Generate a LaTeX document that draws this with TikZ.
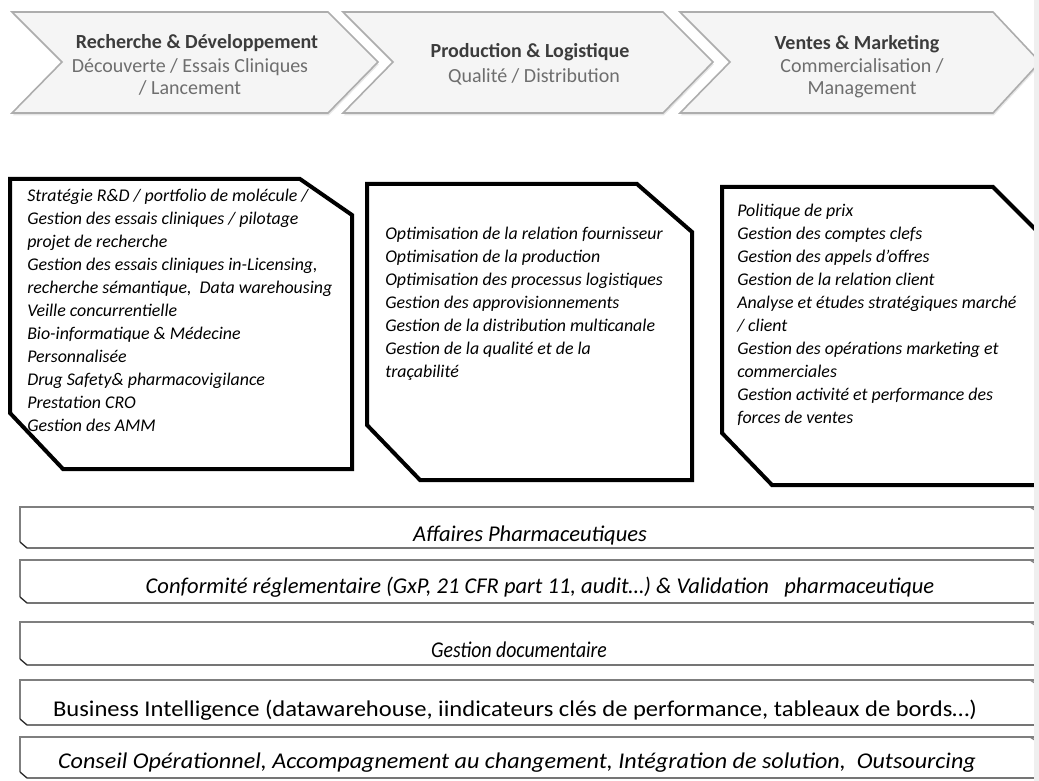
\documentclass[tikz,border=0pt]{standalone}
\usepackage{fontspec}
\setmainfont{Carlito}
\usetikzlibrary{shadows}
\definecolor{chevfill}{HTML}{F5F5F5}
\definecolor{chevline}{HTML}{ADADAD}
\definecolor{titlegray}{HTML}{3C3C3C}
\definecolor{subgray}{HTML}{6E6E6E}
\definecolor{bandtop}{HTML}{7F7F7F}
\definecolor{bandbot}{HTML}{2B2B2B}
\definecolor{edgestrip}{HTML}{EFEFEF}
\tikzstyle{chevron}=[fill=chevfill, draw=chevline, line width=1.2pt, line join=miter,
    drop shadow={opacity=0.2, shadow xshift=0.6pt, shadow yshift=-1.8pt}]
\tikzstyle{steptitle}=[inner sep=0pt, text=titlegray, font=\fontsize{15}{17}\selectfont\bfseries]
\tikzstyle{stepsub}=[inner sep=0pt, align=center, text=subgray, font=\fontsize{15}{16.5}\selectfont]
\tikzstyle{offer}=[draw=black, line width=3pt, line join=miter]
\tikzstyle{offertext}=[inner sep=0pt, anchor=north west, align=left, font=\fontsize{13.4}{17.25}\selectfont\itshape]
\tikzstyle{band}=[draw=bandtop, line width=1pt]
\tikzstyle{bandbase}=[draw=bandbot, line width=1pt]
\tikzstyle{bandtext}=[inner sep=0pt, font=\fontsize{16.9}{20}\selectfont\itshape]
% left, top right, tip, notch
\newcommand{\stepchevron}[4]{\draw[chevron] (#1,12) -- (#2,12) -- (#3,62) -- (#2,113) -- (#1,113) -- (#4,62) -- cycle;}
% top, bottom
\newcommand{\bandrow}[2]{
    \draw[band] (1045,#1) -- (20,#1) -- (20,#2-6);
    \draw[bandbase] (20,#2-6) -- (27,#2) -- (1045,#2);
    \draw[band] (1030,#1) -- (1038,#1+5);
}

\begin{document}
\begin{tikzpicture}[x=0.75pt, y=-0.75pt]
\useasboundingbox (0,0) rectangle (1039,781);
\clip (0,0) rectangle (1039,781);

% value chain
\stepchevron{12}{328}{378}{62}
\stepchevron{343}{663}{713}{393}
\stepchevron{680}{993}{1040}{730}
\node[steptitle] (rd) at (197,43) {Recherche \& Développement};
\node[stepsub] (rdsub) at (190,77) {Découverte / Essais Cliniques\\/ Lancement};
\node[steptitle] (pl) at (530,52) {Production \& Logistique};
\node[stepsub] (plsub) at (534,77) {Qualité / Distribution};
\node[steptitle] (vm) at (857,44) {Ventes \& Marketing};
\node[stepsub] (vmsub) at (862,78) {Commercialisation /\\Management};

% offers
\draw[offer] (10,179) -- (300,179) -- (352,215) -- (352,469) -- (63,469) -- (10,413) -- cycle;
\draw[offer] (367,184) -- (637,184) -- (692,232) -- (692,480) -- (420,480) -- (367,425) -- cycle;
\draw[offer] (722,187) -- (993,187) -- (1045,239) -- (1045,485) -- (772,485) -- (722,433) -- cycle;

\node[offertext] (rdlist) at (27,189) {Stratégie R\&D / portfolio de molécule /\\
Gestion des essais cliniques / pilotage\\
projet de recherche\\
Gestion des essais cliniques in-Licensing,\\
recherche sémantique,\ \ Data warehousing\\
Veille concurrentielle\\
Bio-informatique \& Médecine\\
Personnalisée\\
Drug Safety\& pharmacovigilance\\
Prestation CRO\\
Gestion des AMM};
\node[offertext] (pllist) at (385,227) {Optimisation de la relation fournisseur\\
Optimisation de la production\\
Optimisation des processus logistiques\\
Gestion des approvisionnements\\
Gestion de la distribution multicanale\\
Gestion de la qualité et de la\\
traçabilité};
\node[offertext] (vmlist) at (737,204) {Politique de prix\\
Gestion des comptes clefs\\
Gestion des appels d’offres\\
Gestion de la relation client\\
Analyse et études stratégiques marché\\
/ client\\
Gestion des opérations marketing et\\
commerciales\\
Gestion activité et performance des\\
forces de ventes};

% transverse
\bandrow{507}{548}
\bandrow{560}{603}
\bandrow{622}{665}
\bandrow{680}{725}
\bandrow{737}{778}
\node[bandtext] (aff) at (530,535) {Affaires Pharmaceutiques};
\node[bandtext] (conf) at (540,587) {Conformité réglementaire (GxP, 21 CFR part 11, audit…) \& Validation\ \ \ pharmaceutique};
\node[bandtext] (ged) at (519,650) {\scalebox{0.875}[1]{Gestion documentaire}};
\node[bandtext, font=\fontsize{16.9}{20}\selectfont] (bi) at (515,710) {\scalebox{1.09}[1]{Business Intelligence (datawarehouse, iindicateurs clés de performance, tableaux de bords…)}};
\node[bandtext] (cons) at (517,763) {\scalebox{1.07}[1]{Conseil Opérationnel, Accompagnement au changement, Intégration de solution,\ \ Outsourcing}};

\fill[edgestrip] (1034,0) rectangle (1039,781);
\end{tikzpicture}
\end{document}
